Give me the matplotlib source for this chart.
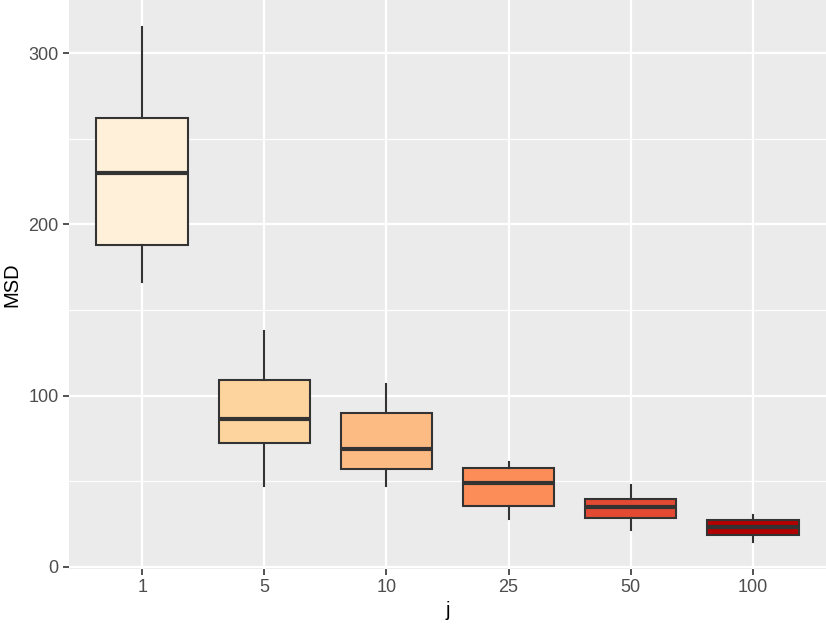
import matplotlib
matplotlib.use("Agg")
import matplotlib.pyplot as plt
from matplotlib.ticker import MultipleLocator

# values
j_levels = ["1", "5", "10", "25", "50", "100"]
whisker_lo = [166.5, 47.3, 47.3, 27.8, 21.6, 14.8]
q1 = [188.0, 72.6, 57.4, 35.8, 28.8, 18.5]
median = [230.0, 86.4, 68.7, 49.0, 35.0, 23.3]
q3 = [262.0, 109.0, 90.0, 58.0, 39.7, 27.6]
whisker_hi = [315.4, 138.0, 107.0, 61.5, 47.7, 30.2]
fills = ["#fef0d9", "#fdd49e", "#fdbb84", "#fc8d59", "#e34a33", "#b30000"]

plt.rcParams["font.family"] = ["Liberation Sans", "DejaVu Sans"]

fig = plt.figure(figsize=(8.26, 6.26), dpi=100)
ax = fig.add_axes([69 / 826, 1 - 569 / 626, 1 - 69 / 826, 569 / 626])

stats = []
for i, lab in enumerate(j_levels):
    stats.append({"label": lab, "whislo": whisker_lo[i], "q1": q1[i], "med": median[i],
                  "q3": q3[i], "whishi": whisker_hi[i], "fliers": []})

edge = "#333333"
bp = ax.bxp(stats, positions=range(len(j_levels)), widths=0.75, patch_artist=True,
            showcaps=False, showfliers=False,
            boxprops=dict(edgecolor=edge, linewidth=1.5),
            whiskerprops=dict(color=edge, linewidth=1.5),
            medianprops=dict(color=edge, linewidth=3, solid_capstyle="butt"))
for patch, c in zip(bp["boxes"], fills):
    patch.set_facecolor(c)
for art in bp["boxes"] + bp["whiskers"] + bp["medians"]:
    art.set_zorder(3)

ax.set_facecolor("#ebebeb")
for s in ax.spines.values():
    s.set_visible(False)
ax.set_xlim(-0.6, 5.6)
ax.set_ylim(-1.2, 331)
ax.yaxis.set_major_locator(MultipleLocator(100))
ax.yaxis.set_minor_locator(MultipleLocator(50))
ax.grid(which="major", color="white", linewidth=1.6, zorder=0)
ax.grid(which="minor", axis="y", color="white", linewidth=0.8, zorder=0)
ax.set_axisbelow(True)
ax.tick_params(which="major", length=4, width=1.2, color=edge, labelcolor="#4d4d4d",
               labelsize=13, pad=3.5)
ax.tick_params(which="minor", length=0)
ax.set_xticks(range(len(j_levels)))
ax.set_xticklabels(j_levels)

ax.set_xlabel("j", fontsize=14.5, color="black", labelpad=3)
ax.set_ylabel("MSD", fontsize=14.5, color="black", labelpad=5)

fig.savefig("out.png", dpi=100)
